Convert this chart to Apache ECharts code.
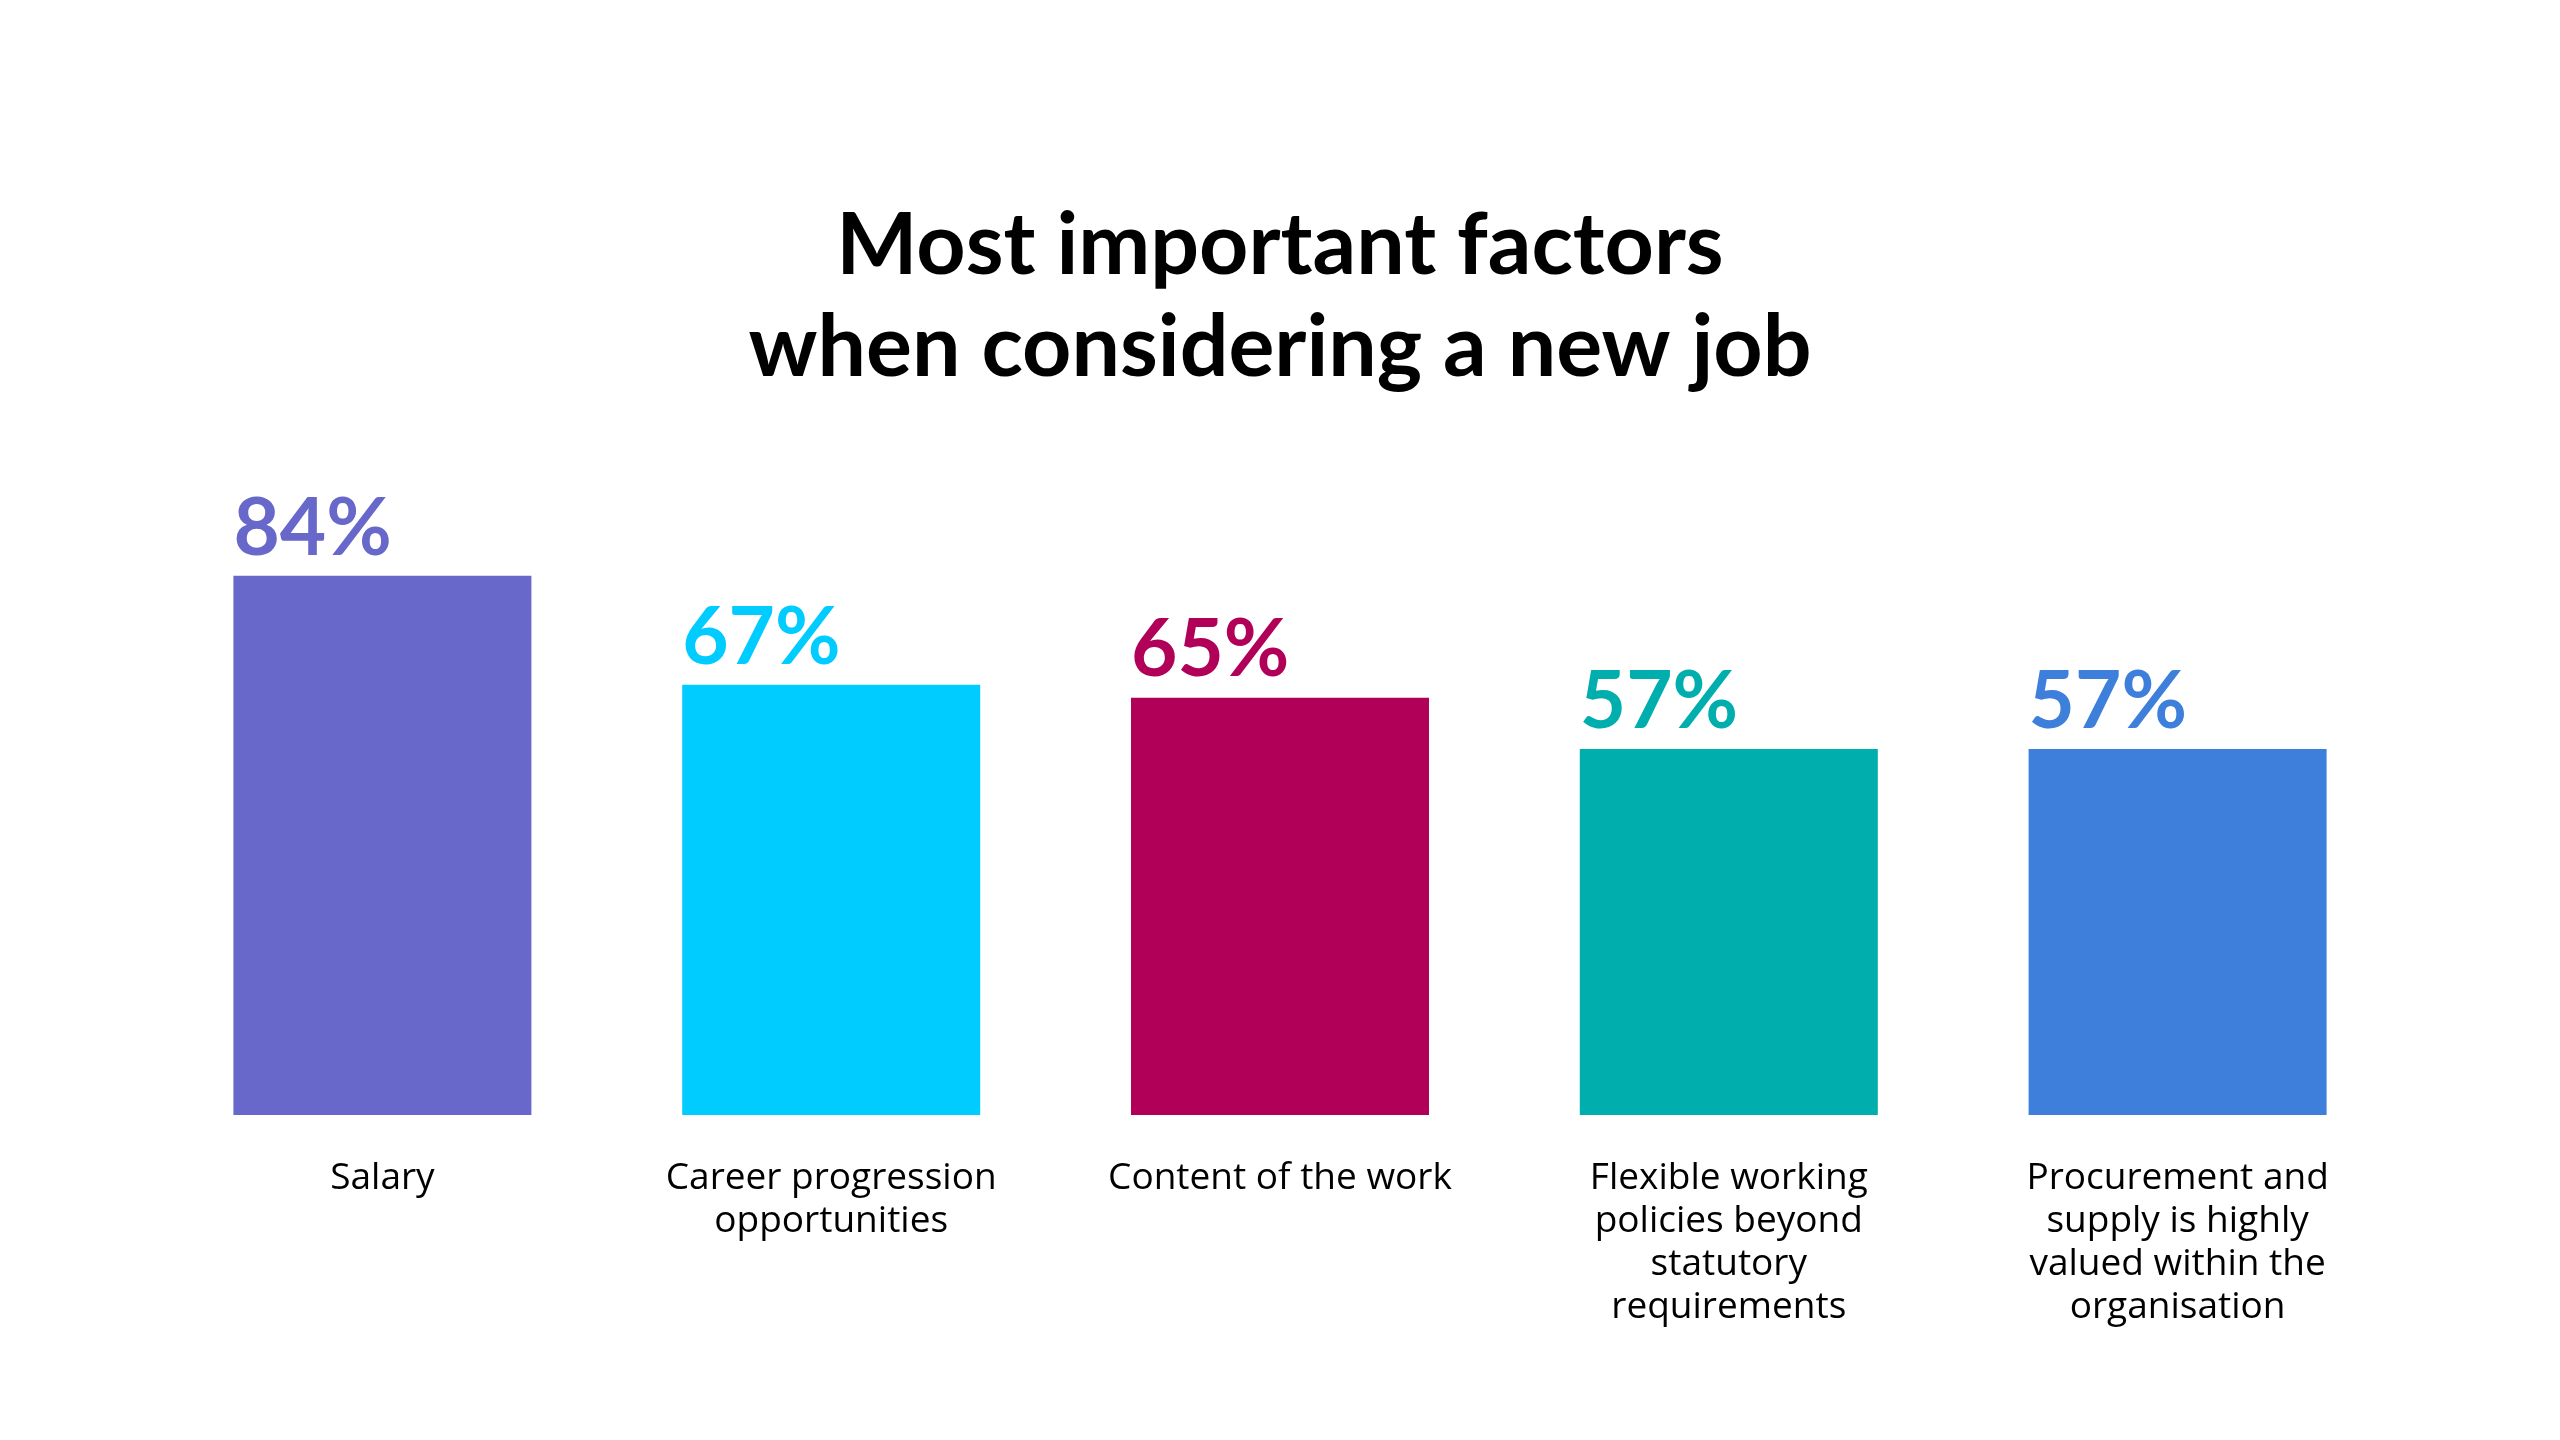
<!DOCTYPE html>
<html>
<head>
<meta charset="utf-8">
<script src="https://cdn.jsdelivr.net/npm/echarts@6/dist/echarts.min.js"></script>
<style>
html,body{margin:0;padding:0;background:#fff;}
#chart{width:2560px;height:1440px;}
</style>
</head>
<body>
<div id="chart"></div>
<script>
const titleText = 'Most important factors\nwhen considering a new job';
const categories = [
  'Salary',
  'Career progression\nopportunities',
  'Content of the work',
  'Flexible working\npolicies beyond\nstatutory\nrequirements',
  'Procurement and\nsupply is highly\nvalued within the\norganisation'
];
const values = [84, 67, 65, 57, 57];
const colors = ['#6868CA', '#00CCFF', '#B10058', '#00AFAD', '#3D7FDB'];

const chart = echarts.init(document.getElementById('chart'));
chart.setOption({
  backgroundColor: '#ffffff',
  animation: false,
  title: {
    text: titleText,
    left: 'center',
    top: 190,
    textStyle: {
      fontFamily: 'Lato',
      fontWeight: 'bold',
      fontSize: 86,
      lineHeight: 102,
      color: '#000000'
    }
  },
  grid: { left: 158, right: 158, top: 473, bottom: 325, containLabel: false },
  xAxis: {
    type: 'category',
    data: categories,
    axisLine: { show: false },
    axisTick: { show: false },
    axisLabel: {
      interval: 0,
      margin: 42,
      fontFamily: 'Open Sans',
      fontSize: 37,
      lineHeight: 43,
      color: '#000000',
      align: 'center',
      verticalAlign: 'top'
    }
  },
  yAxis: {
    type: 'value',
    min: 0,
    max: 100,
    show: false,
    splitLine: { show: false }
  },
  series: [{
    type: 'bar',
    barWidth: 298,
    data: values.map((v, i) => ({ value: v, itemStyle: { color: colors[i] }, label: { color: colors[i] } })),
    label: {
      show: true,
      position: [0, -7],
      align: 'left',
      verticalAlign: 'bottom',
      formatter: '{c}%',
      fontFamily: 'Lato',
      fontWeight: 'bold',
      fontSize: 80,
      lineHeight: 80
    }
  }]
});
</script>
</body>
</html>
